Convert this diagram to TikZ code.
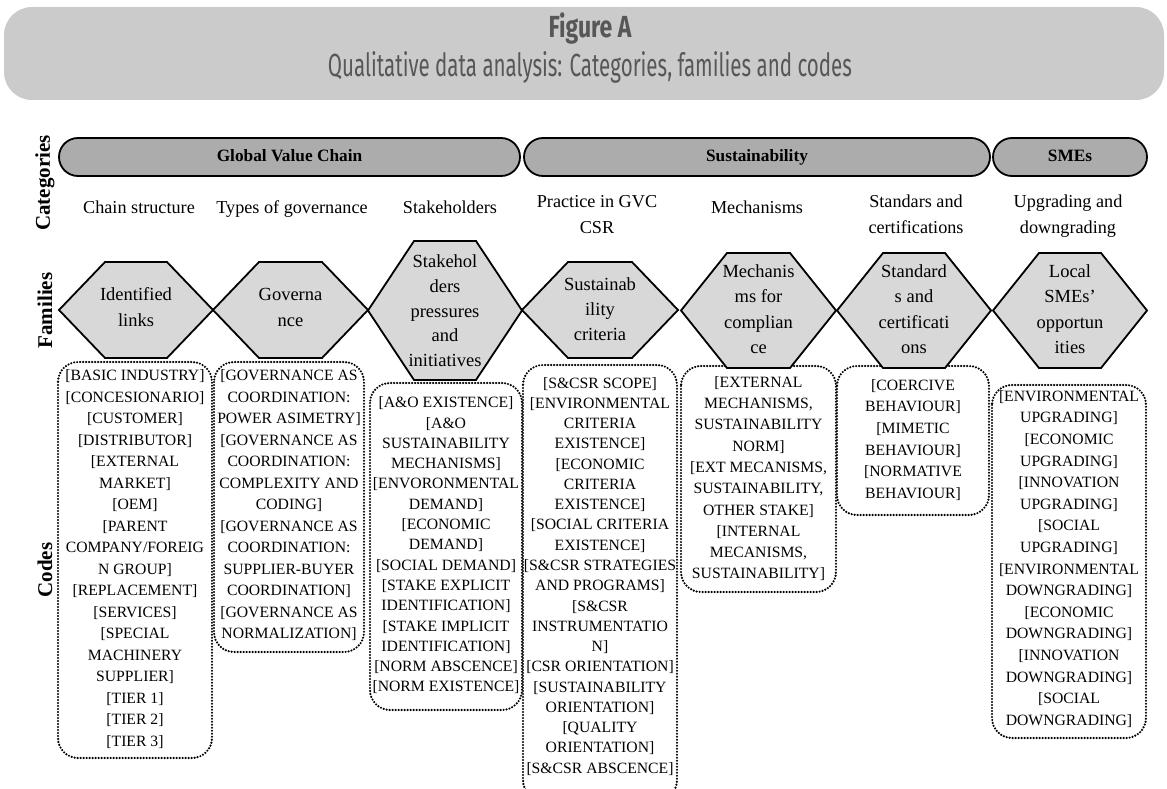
\documentclass[tikz,border=0pt]{standalone}
\usepackage{graphicx}
\usepackage{fontspec}
\setmainfont{Liberation Serif}
\newfontfamily\titlefont{Fira Sans}
\definecolor{headgray}{RGB}{203,203,203}
\definecolor{titlegray}{RGB}{87,87,87}
\definecolor{pillgray}{RGB}{172,172,172}
\definecolor{hexgray}{RGB}{216,216,216}
\newcommand{\hexpath}[4]{% cx, cy, half width, half height
  \path[hexa] ({#1-#3},#2) -- ({#1-#3+46},{#2-#4}) -- ({#1+#3-46},{#2-#4}) -- ({#1+#3},#2)
    -- ({#1+#3-46},{#2+#4}) -- ({#1-#3+46},{#2+#4}) -- cycle;}
\begin{document}
\begin{tikzpicture}[x=1pt,y=-1pt,
  header/.style={fill=headgray, rounded corners=28pt},
  pill/.style={draw=black, line width=1.8pt, fill=pillgray, rounded corners=19pt,
    minimum height=38pt, inner sep=0pt, text height=11.5pt, text depth=3.5pt,
    font=\bfseries\fontsize{17.3}{20}\selectfont},
  hexa/.style={draw=black, line width=1.8pt, fill=hexgray, line join=miter},
  codebox/.style={draw=black, line width=2.4pt, dash pattern=on 0pt off 3pt, line cap=round, rounded corners=20pt},
  rowlabel/.style={rotate=90, inner sep=0pt, font=\bfseries\fontsize{21}{21}\selectfont},
  catlabel/.style={anchor=base, inner sep=0pt, align=center, font=\fontsize{18.2}{26}\selectfont},
  famtext/.style={anchor=base, inner sep=0pt, align=center, font=\fontsize{18.5}{#1}\selectfont},
  codetext/.style={anchor=base, inner sep=0pt, align=center, font=\fontsize{15.7}{#1}\selectfont}
]
\useasboundingbox (0,0) rectangle (1167,789);
\clip (0,0) rectangle (1167,789);

% header
\path[header] (4,7) rectangle (1164,100);
\node[anchor=base, inner sep=0pt, text=titlegray] (figA) at (590,38)
  {\resizebox{83pt}{\height}{\titlefont\bfseries\fontsize{30.5}{31}\selectfont Figure A}};
\node[anchor=base, inner sep=0pt, text=titlegray] (subt) at (590,77)
  {\resizebox{524pt}{\height}{\titlefont\fontsize{32}{33}\selectfont Qualitative data analysis: Categories, families and codes}};

% row labels
\node[rowlabel] (lcat) at (45,183) {Categories};
\node[rowlabel] (lfam) at (45,310.5) {Families};
\node[rowlabel] (lcod) at (45,570) {Codes};

% category pills
\node[pill, minimum width=461pt] (gvc) at (289.5,157) {Global Value Chain};
\node[pill, minimum width=466pt] (sust) at (757,157) {Sustainability};
\node[pill, minimum width=154pt] (smes) at (1070,157) {SMEs};

% category labels (anchor = baseline of last line)
\node[catlabel] (c1) at (139,213) {Chain structure};
\node[catlabel] (c2) at (292,213) {Types of governance};
\node[catlabel] (c3) at (450,213) {Stakeholders};
\node[catlabel] (c4) at (597,233) {Practice in GVC\\CSR};
\node[catlabel] (c5) at (757,213) {Mechanisms};
\node[catlabel] (c6) at (916,233) {Standars and\\certifications};
\node[catlabel] (c7) at (1068,233) {Upgrading and\\downgrading};

% code boxes
\draw[codebox] (58,362) rectangle (212,758);
\draw[codebox] (214,362) rectangle (364,652);
\draw[codebox] (370,383) rectangle (522,710);
\draw[codebox] (523,365) rectangle (677,800);
\draw[codebox] (681,366) rectangle (836,592);
\draw[codebox] (837,366) rectangle (989,515);
\draw[codebox] (992,385) rectangle (1146,738);

% hexagons
\hexpath{136}{310}{77}{48}
\hexpath{290.5}{310}{77.5}{48}
\hexpath{445}{310.5}{77}{69.5}
\hexpath{600}{310}{78}{48}
\hexpath{758.5}{310.5}{77.5}{57.5}
\hexpath{914}{310.5}{77}{57.5}
\hexpath{1070}{310.5}{77}{57.5}

\node[famtext=26] (f1) at (136,326.5) {Identified\\links};
\node[famtext=26] (f2) at (290.5,326.5) {Governa\\nce};
\node[famtext=24.8] (f3) at (445,366.7) {Stakehol\\ders\\pressures\\and\\initiatives};
\node[famtext=25.3] (f4) at (600,340.6) {Sustainab\\ility\\criteria};
\node[famtext=25.3] (f5) at (758.5,353.4) {Mechanis\\ms for\\complian\\ce};
\node[famtext=25.3] (f6) at (914,353.4) {Standard\\s and\\certificati\\ons};
\node[famtext=25.3] (f7) at (1070,353.4) {Local\\SMEs'\\opportun\\ities};

% codes
\node[codetext=21.5] (k1) at (135,746.2) {[BASIC INDUSTRY]\\{}[CONCESIONARIO]\\{}[CUSTOMER]\\{}[DISTRIBUTOR]\\{}[EXTERNAL\\MARKET]\\{}[OEM]\\{}[PARENT\\COMPANY/FOREIG\\N GROUP]\\{}[REPLACEMENT]\\{}[SERVICES]\\{}[SPECIAL\\MACHINERY\\SUPPLIER]\\{}[TIER 1]\\{}[TIER 2]\\{}[TIER 3]};
\node[codetext=21.5] (k2) at (289,638.7) {[GOVERNANCE AS\\COORDINATION:\\POWER ASIMETRY]\\{}[GOVERNANCE AS\\COORDINATION:\\COMPLEXITY AND\\CODING]\\{}[GOVERNANCE AS\\COORDINATION:\\SUPPLIER-BUYER\\COORDINATION]\\{}[GOVERNANCE AS\\NORMALIZATION]};
\node[codetext=20.3] (k3) at (446,691.9) {[A\&O EXISTENCE]\\{}[A\&O\\SUSTAINABILITY\\MECHANISMS]\\{}[ENVORONMENTAL\\DEMAND]\\{}[ECONOMIC\\DEMAND]\\{}[SOCIAL DEMAND]\\{}[STAKE EXPLICIT\\IDENTIFICATION]\\{}[STAKE IMPLICIT\\IDENTIFICATION]\\{}[NORM ABSCENCE]\\{}[NORM EXISTENCE]};
\node[codetext=20.26] (k4) at (600,773.1) {[S\&CSR SCOPE]\\{}[ENVIRONMENTAL\\CRITERIA\\EXISTENCE]\\{}[ECONOMIC\\CRITERIA\\EXISTENCE]\\{}[SOCIAL CRITERIA\\EXISTENCE]\\{}[S\&CSR STRATEGIES\\AND PROGRAMS]\\{}[S\&CSR\\INSTRUMENTATIO\\N]\\{}[CSR ORIENTATION]\\{}[SUSTAINABILITY\\ORIENTATION]\\{}[QUALITY\\ORIENTATION]\\{}[S\&CSR ABSCENCE]};
\node[codetext=21.3] (k5) at (758.5,578.9) {[EXTERNAL\\MECHANISMS,\\SUSTAINABILITY\\NORM]\\{}[EXT MECANISMS,\\SUSTAINABILITY,\\OTHER STAKE]\\{}[INTERNAL\\MECANISMS,\\SUSTAINABILITY]};
\node[codetext=21.6] (k6) at (913,498.2) {[COERCIVE\\BEHAVIOUR]\\{}[MIMETIC\\BEHAVIOUR]\\{}[NORMATIVE\\BEHAVIOUR]};
\node[codetext=21.6] (k7) at (1069,725.2) {[ENVIRONMENTAL\\UPGRADING]\\{}[ECONOMIC\\UPGRADING]\\{}[INNOVATION\\UPGRADING]\\{}[SOCIAL\\UPGRADING]\\{}[ENVIRONMENTAL\\DOWNGRADING]\\{}[ECONOMIC\\DOWNGRADING]\\{}[INNOVATION\\DOWNGRADING]\\{}[SOCIAL\\DOWNGRADING]};
\end{tikzpicture}
\end{document}
